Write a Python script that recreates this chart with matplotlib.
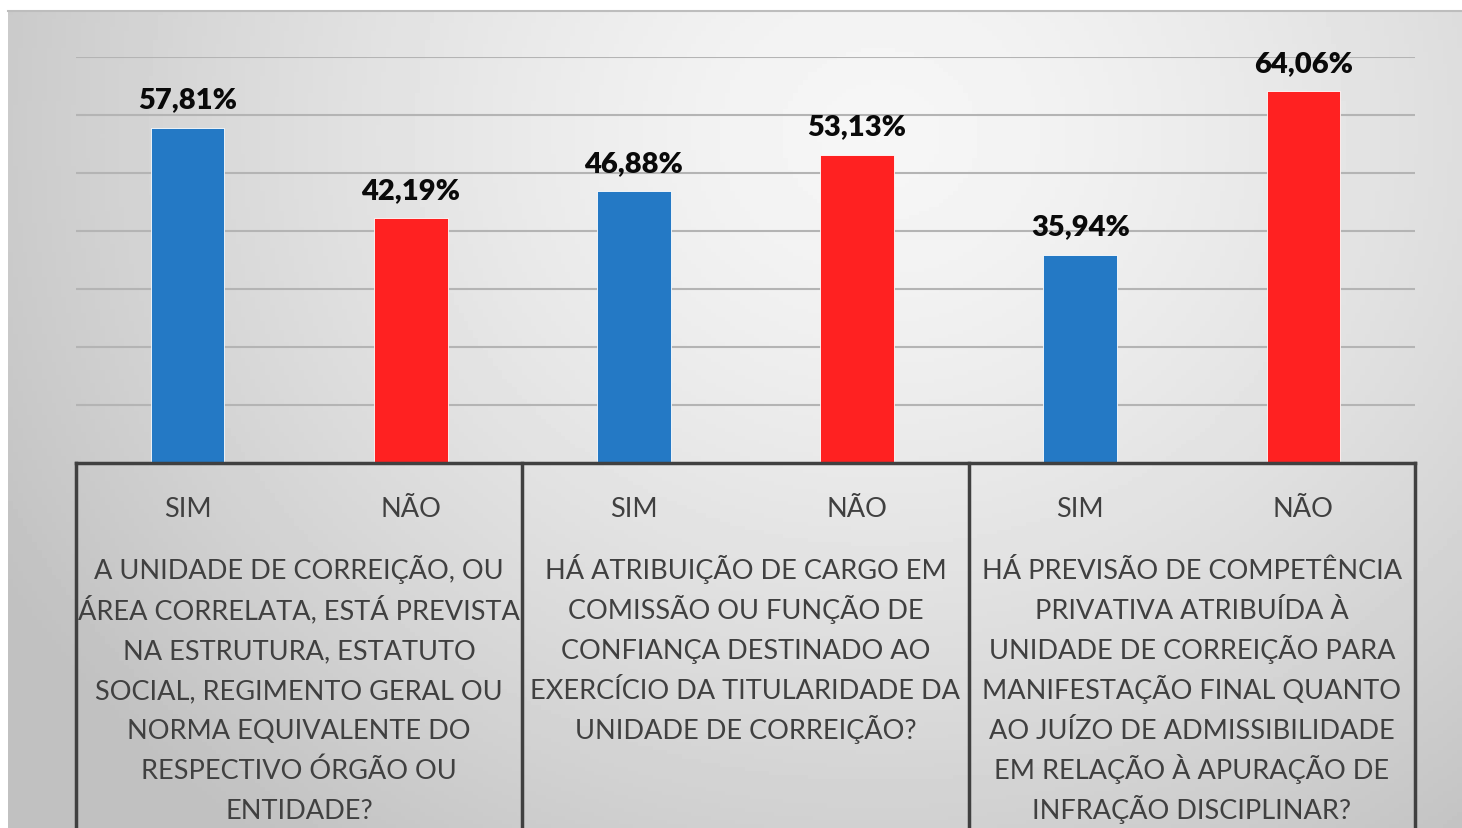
import numpy as np
import matplotlib.pyplot as plt

# values
answers = ['SIM', 'NÃO', 'SIM', 'NÃO', 'SIM', 'NÃO']
values = [57.81, 42.19, 46.88, 53.13, 35.94, 64.06]
bar_colors = ['#2479C5', '#FF2121'] * 3
questions = [
    ['A UNIDADE DE CORREIÇÃO, OU', 'ÁREA CORRELATA, ESTÁ PREVISTA',
     'NA ESTRUTURA, ESTATUTO', 'SOCIAL, REGIMENTO GERAL OU',
     'NORMA EQUIVALENTE DO', 'RESPECTIVO ÓRGÃO OU', 'ENTIDADE?'],
    ['HÁ ATRIBUIÇÃO DE CARGO EM', 'COMISSÃO OU FUNÇÃO DE',
     'CONFIANÇA DESTINADO AO', 'EXERCÍCIO DA TITULARIDADE DA',
     'UNIDADE DE CORREIÇÃO?'],
    ['HÁ PREVISÃO DE COMPETÊNCIA', 'PRIVATIVA ATRIBUÍDA À',
     'UNIDADE DE CORREIÇÃO PARA', 'MANIFESTAÇÃO FINAL QUANTO',
     'AO JUÍZO DE ADMISSIBILIDADE', 'EM RELAÇÃO À APURAÇÃO DE',
     'INFRAÇÃO DISCIPLINAR?'],
]

W, H = 1462, 829
fig = plt.figure(figsize=(W / 100, H / 100), dpi=100)
fig.patch.set_facecolor('white')

# gradient background panel
bg = fig.add_axes([8 / W, 0, 1 - 8 / W, 1 - 12 / H], zorder=-5)
gx, gy = np.meshgrid(np.linspace(0, 1, 300), np.linspace(0, 1, 200))
d = np.sqrt(((gx - 0.6) / 0.7) ** 2 + ((gy - 0.15) / 1.1) ** 2)
shade = 0.965 - 0.21 * np.clip(d, 0, 1) ** 1.4
bg.imshow(shade, cmap='gray', vmin=0, vmax=1, aspect='auto', extent=[0, 1, 0, 1])
bg.set_xticks([])
bg.set_yticks([])
for s in bg.spines.values():
    s.set_visible(False)
bg.spines['top'].set_visible(True)
bg.spines['top'].set_color('#bdbdbd')
bg.spines['top'].set_linewidth(1.5)

top_px, base_px = 58, 464
ax = fig.add_axes([76 / W, 1 - base_px / H, (1415 - 76) / W, (base_px - top_px) / H])
ax.set_facecolor('none')

x = np.arange(len(values))
ax.bar(x, values, width=0.33, color=bar_colors, edgecolor='white', linewidth=0.6, zorder=3)
ax.set_xlim(-0.5, 5.5)
ax.set_ylim(0, 70)
ax.set_yticks(np.arange(10, 71, 10))
ax.yaxis.grid(True, color='#b4b4b4', linewidth=1.5, zorder=0)
ax.tick_params(left=False, bottom=False, labelleft=False, labelbottom=False)
for s in ax.spines.values():
    s.set_visible(False)

for xi, v in zip(x, values):
    ax.annotate(f'{v:.2f}%'.replace('.', ','), (xi, v), xytext=(0, 11),
                textcoords='offset points', ha='center', va='bottom',
                fontsize=21, fontweight='heavy', family='Lato', color='#0a0a0a')

# table below the bars
trans = ax.get_xaxis_transform()
ppx = base_px - top_px


def ypos(py):
    return -(py - base_px) / ppx


bottom = ypos(H + 5)
ax.plot([-0.5, 5.5], [0, 0], color='#404040', lw=2.5, transform=trans, clip_on=False, zorder=4)
for xv in [-0.5, 1.5, 3.5, 5.5]:
    ax.plot([xv, xv], [0, bottom], color='#404040', lw=2.5, transform=trans, clip_on=False, zorder=4)

for xi, a in zip(x, answers):
    ax.text(xi, ypos(517), a, transform=trans, ha='center', va='baseline',
            fontsize=19.5, family='Lato', color='#404040')

for ci, lines in enumerate(questions):
    for li, line in enumerate(lines):
        ax.text(2 * ci + 0.5, ypos(579 + 40 * li), line, transform=trans,
                ha='center', va='baseline', fontsize=19.5, family='Lato', color='#404040')

fig.savefig('out.png', dpi=100)
